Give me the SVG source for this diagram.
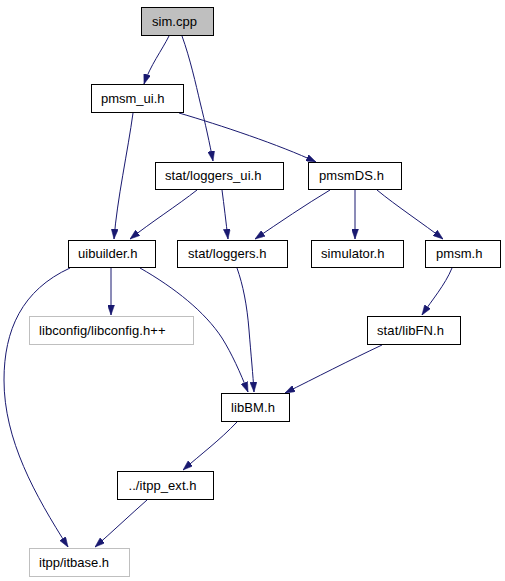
<svg xmlns="http://www.w3.org/2000/svg" width="505" height="581" viewBox="0 0 505 581">
<style>
  .node rect { fill: #ffffff; stroke: #000000; stroke-width: 1; }
  .node.root rect { fill: #bfbfbf; }
  .node.ext rect { stroke: #bfbfbf; }
  .node text { font-family: "Liberation Sans", Arial, Helvetica, sans-serif; font-size: 13px; fill: #000000; text-anchor: start; }
  .edges path { fill: none; stroke: #191970; stroke-width: 1; marker-end: url(#arr); }
</style>
<defs>
  <marker id="arr" markerUnits="userSpaceOnUse" viewBox="0 0 10 7" refX="10" refY="3.5" markerWidth="10" markerHeight="7" orient="auto">
    <path d="M0,0 L10,3.5 L0,7 Z" fill="#191970" stroke="#191970" stroke-width="0.5"/>
  </marker>
</defs>
<rect x="0" y="0" width="505" height="581" fill="#ffffff"/>
<g class="edges">
  <path d="M169,36 C162,50 150,66 144,84"/>
  <path d="M182,36 C190,58 196,85 200,102 C205,122 210,145 213,161"/>
  <path d="M133,113 C128,150 117,200 114,239"/>
  <path d="M179,113 C220,125 280,145 316,162"/>
  <path d="M197,190 C178,205 150,223 130,239"/>
  <path d="M222,190 C224,205 226,222 228,239"/>
  <path d="M330,190 C305,205 280,222 255,239"/>
  <path d="M355,190 L355,239"/>
  <path d="M377,190 C395,205 425,225 443,239"/>
  <path d="M111,268 L111,315"/>
  <path d="M140,268 C175,288 205,312 222,338 C232,354 240,372 248,392"/>
  <path d="M70,268 C22,290 4,330 4,380 C4,440 35,495 68,547"/>
  <path d="M237,268 C243,285 247,305 249,330 C251,355 253,375 254,392"/>
  <path d="M452,268 C445,285 432,300 422,315"/>
  <path d="M382,345 C350,360 315,378 285,393"/>
  <path d="M237,422 C220,440 200,455 183,470"/>
  <path d="M147,500 C130,515 112,532 95,547"/>
</g>
<g id="node-sim" class="node root"><rect x="141.5" y="7.5" width="72" height="28"/><text x="152" y="25.5" textLength="45" lengthAdjust="spacing">sim.cpp</text></g>
<g id="node-pmsm_ui" class="node"><rect x="91.5" y="84.5" width="92" height="28"/><text x="101" y="102.5" textLength="63.5" lengthAdjust="spacing">pmsm_ui.h</text></g>
<g id="node-loggers_ui" class="node"><rect x="155.5" y="162.5" width="128" height="27"/><text x="165" y="180" textLength="96.5" lengthAdjust="spacing">stat/loggers_ui.h</text></g>
<g id="node-pmsmDS" class="node"><rect x="308.5" y="162.5" width="93" height="27"/><text x="319" y="180" textLength="65" lengthAdjust="spacing">pmsmDS.h</text></g>
<g id="node-uibuilder" class="node"><rect x="68.5" y="240.5" width="87" height="27"/><text x="78" y="258" textLength="59.5" lengthAdjust="spacing">uibuilder.h</text></g>
<g id="node-loggers" class="node"><rect x="177.5" y="240.5" width="110" height="27"/><text x="188" y="258" textLength="78.5" lengthAdjust="spacing">stat/loggers.h</text></g>
<g id="node-simulator" class="node"><rect x="311.5" y="240.5" width="92" height="27"/><text x="321" y="258" textLength="63.5" lengthAdjust="spacing">simulator.h</text></g>
<g id="node-pmsm" class="node"><rect x="425.5" y="240.5" width="75" height="27"/><text x="436" y="258" textLength="46.5" lengthAdjust="spacing">pmsm.h</text></g>
<g id="node-libconfig" class="node ext"><rect x="29.5" y="316.5" width="164" height="28"/><text x="39" y="334.5" textLength="126.5" lengthAdjust="spacing">libconfig/libconfig.h++</text></g>
<g id="node-libFN" class="node"><rect x="367.5" y="316.5" width="93" height="28"/><text x="377" y="334.5" textLength="67" lengthAdjust="spacing">stat/libFN.h</text></g>
<g id="node-libBM" class="node"><rect x="221.5" y="393.5" width="68" height="28"/><text x="231" y="411.5" textLength="44" lengthAdjust="spacing">libBM.h</text></g>
<g id="node-itpp_ext" class="node"><rect x="117.5" y="471.5" width="96" height="28"/><text x="128.5" y="489.5" textLength="68" lengthAdjust="spacing">../itpp_ext.h</text></g>
<g id="node-itbase" class="node ext"><rect x="29.5" y="548.5" width="100" height="28"/><text x="39" y="566.5" textLength="70" lengthAdjust="spacing">itpp/itbase.h</text></g>
</svg>
